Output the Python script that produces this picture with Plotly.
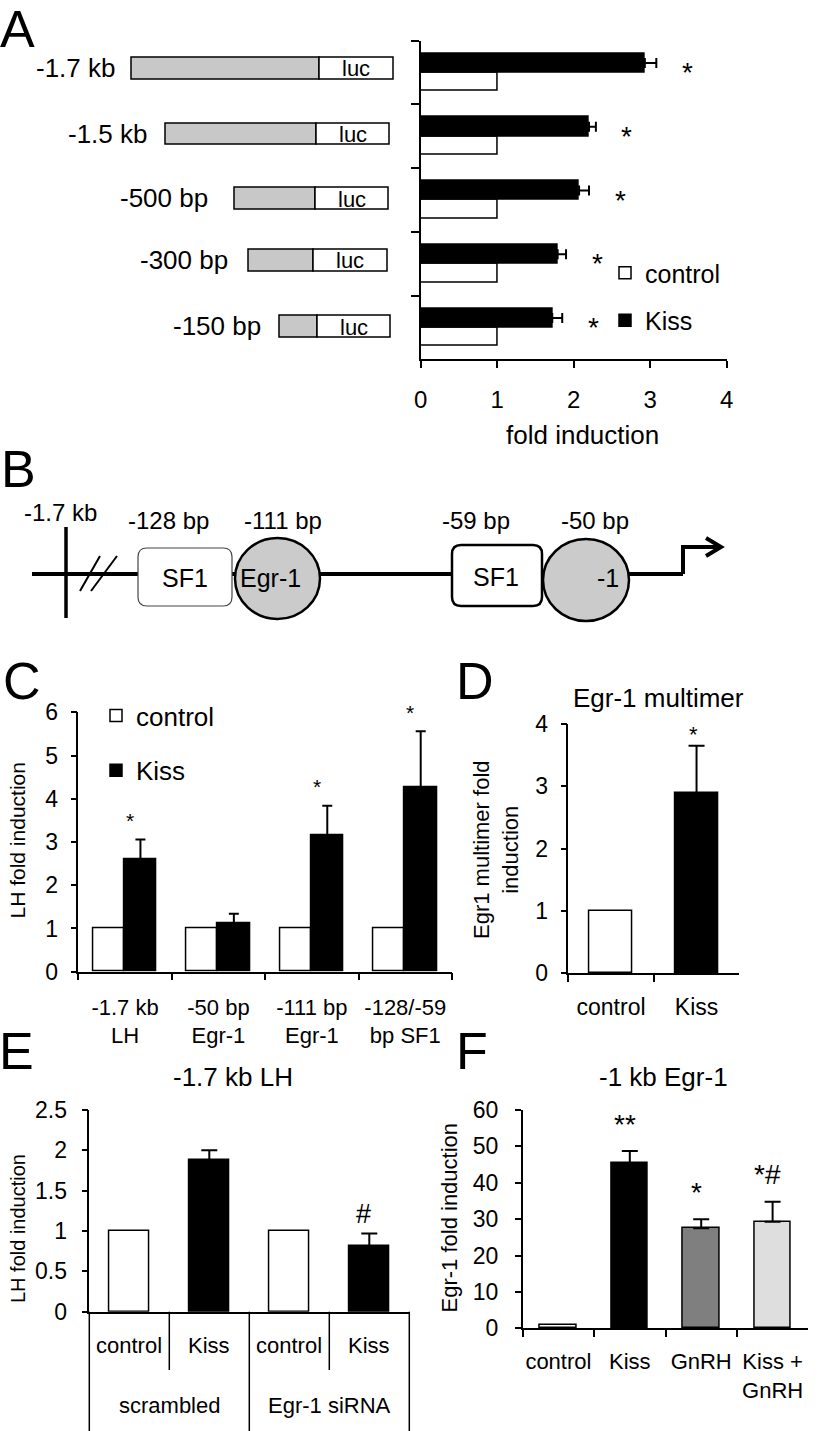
import plotly.graph_objects as go

W, H = 819, 1431
FONT = "Liberation Sans, Arial, Helvetica, sans-serif"

# ---------------- data ----------------
# Panel A: promoter deletion constructs
a_constructs = ["-1.7 kb", "-1.5 kb", "-500 bp", "-300 bp", "-150 bp"]
a_control = [1.0, 1.0, 1.0, 1.0, 1.0]
a_kiss = [2.93, 2.20, 2.07, 1.79, 1.72]
a_kiss_err = [0.15, 0.09, 0.13, 0.11, 0.13]
a_sig = ["*", "*", "*", "*", "*"]
a_xticks = [0, 1, 2, 3, 4]

# Panel B: promoter map
b_start_label = "-1.7 kb"
b_site_positions = ["-128 bp", "-111 bp", "-59 bp", "-50 bp"]
b_site_names = ["SF1", "Egr-1", "SF1", "-1"]

# Panel C
c_constructs = ["-1.7 kb<br>LH", "-50 bp<br>Egr-1", "-111 bp<br>Egr-1", "-128/-59<br>bp SF1"]
c_control = [1.0, 1.0, 1.0, 1.0]
c_kiss = [2.60, 1.12, 3.16, 4.26]
c_kiss_err = [0.46, 0.22, 0.68, 1.30]
c_sig = ["*", "", "*", "*"]
c_yticks = [0, 1, 2, 3, 4, 5, 6]

# Panel D
d_conditions = ["control", "Kiss"]
d_values = [1.0, 2.89]
d_err = [0.0, 0.76]
d_sig = ["", "*"]
d_yticks = [0, 1, 2, 3, 4]

# Panel E
e_groups = ["scrambled", "scrambled", "Egr-1 siRNA", "Egr-1 siRNA"]
e_conditions = ["control", "Kiss", "control", "Kiss"]
e_values = [1.0, 1.88, 1.0, 0.81]
e_err = [0.0, 0.12, 0.0, 0.16]
e_sig = ["", "", "", "#"]
e_yticks = [0, 0.5, 1, 1.5, 2, 2.5]
e_yticklabels = ["0", "0.5", "1", "1.5", "2", "2.5"]

# Panel F
f_conditions = ["control", "Kiss", "GnRH", "Kiss +<br>GnRH"]
f_values = [1.0, 45.3, 27.5, 29.3]
f_err = [0.0, 3.4, 2.5, 5.5]
f_sig = ["", "**", "*", "*#"]
f_yticks = [0, 10, 20, 30, 40, 50, 60]

# ---------------- styles ----------------
COL_CONTROL = "white"
COL_KISS = "black"
f_colors = ["white", "black", "#7f7f7f", "#dedede"]
GRAY_PROMOTER = "#c8c8c8"


def px(x):
    return x / W


def py(y):
    return 1 - y / H


def mask(vals, keep):
    return [v if k else None for v, k in zip(vals, keep)]


fig = go.Figure()
edge = dict(color="black", width=1.5)
err_style = dict(color="black", thickness=2)

# ---- Panel A bars (horizontal)
fig.add_trace(go.Bar(
    y=a_constructs, x=a_control, orientation="h", name="control",
    marker=dict(color=COL_CONTROL, line=edge), width=0.29, offset=-0.29,
    xaxis="x", yaxis="y", legend="legend", legendgroup="a_control"))
fig.add_trace(go.Bar(
    y=a_constructs, x=a_kiss, orientation="h", name="Kiss",
    marker=dict(color=COL_KISS, line=edge), width=0.3, offset=0.0,
    error_x=dict(type="data", array=a_kiss_err, arrayminus=[0] * len(a_kiss),
                 symmetric=False, width=5, **err_style),
    xaxis="x", yaxis="y", legend="legend", legendgroup="a_kiss"))

# ---- Panel C bars
fig.add_trace(go.Bar(
    x=c_constructs, y=c_control, name="control",
    marker=dict(color=COL_CONTROL, line=edge), width=0.33, offset=-0.34,
    xaxis="x2", yaxis="y2", legend="legend2", legendgroup="c_control"))
fig.add_trace(go.Bar(
    x=c_constructs, y=c_kiss, name="Kiss",
    marker=dict(color=COL_KISS, line=edge), width=0.35, offset=-0.01,
    error_y=dict(type="data", array=c_kiss_err, arrayminus=[0] * len(c_kiss),
                 symmetric=False, width=5, **err_style),
    xaxis="x2", yaxis="y2", legend="legend2", legendgroup="c_kiss"))

# ---- Panel D bars
d_is_ctrl = [c == "control" for c in d_conditions]
fig.add_trace(go.Bar(
    x=d_conditions, y=mask(d_values, d_is_ctrl), showlegend=False,
    marker=dict(color=COL_CONTROL, line=edge), width=0.5,
    xaxis="x3", yaxis="y3"))
fig.add_trace(go.Bar(
    x=d_conditions, y=mask(d_values, [not k for k in d_is_ctrl]), showlegend=False,
    marker=dict(color=COL_KISS, line=edge), width=0.5,
    error_y=dict(type="data", array=d_err, arrayminus=[0] * len(d_err),
                 symmetric=False, width=8, **err_style),
    xaxis="x3", yaxis="y3"))

# ---- Panel E bars (multicategory axis)
e_is_ctrl = [c == "control" for c in e_conditions]
fig.add_trace(go.Bar(
    x=[e_groups, e_conditions], y=mask(e_values, e_is_ctrl), showlegend=False,
    marker=dict(color=COL_CONTROL, line=edge), width=0.5,
    xaxis="x4", yaxis="y4"))
fig.add_trace(go.Bar(
    x=[e_groups, e_conditions], y=mask(e_values, [not k for k in e_is_ctrl]), showlegend=False,
    marker=dict(color=COL_KISS, line=edge), width=0.5,
    error_y=dict(type="data", array=e_err, arrayminus=[0] * len(e_err),
                 symmetric=False, width=8, **err_style),
    xaxis="x4", yaxis="y4"))

# ---- Panel F bars
f_is_ctrl = [c == "control" for c in f_conditions]
fig.add_trace(go.Bar(
    x=f_conditions, y=mask(f_values, f_is_ctrl), showlegend=False,
    marker=dict(color=f_colors, line=edge), width=0.51,
    xaxis="x5", yaxis="y5"))
fig.add_trace(go.Bar(
    x=f_conditions, y=mask(f_values, [not k for k in f_is_ctrl]), showlegend=False,
    marker=dict(color=f_colors, line=edge), width=0.51,
    error_y=dict(type="data", array=f_err, arrayminus=[0] * len(f_err),
                 symmetric=False, width=8, **err_style),
    xaxis="x5", yaxis="y5"))

# ---------------- axes ----------------
base = dict(showline=True, linecolor="black", linewidth=1.5, ticks="outside",
            tickcolor="black", tickwidth=1.5, showgrid=False, zeroline=False,
            automargin=False, fixedrange=True,
            tickfont=dict(family=FONT, size=23, color="black"))

layout_axes = dict(
    xaxis=dict(base, domain=[px(420.7), px(726.7)], anchor="y", range=[0, 4],
               tickvals=a_xticks, ticklen=7, tickfont=dict(family=FONT, size=24, color="black"),
               ticklabelstandoff=11),
    yaxis=dict(base, domain=[py(359.3), py(40.7)], anchor="x", type="category",
               categoryorder="array", categoryarray=a_constructs[::-1],
               range=[-0.5, 4.5], tickson="boundaries", ticklen=8, showticklabels=False),
    xaxis2=dict(base, domain=[px(78.3), px(452)], anchor="y2", type="category",
                range=[-0.5, 3.5], tickson="boundaries", ticklen=7, tickangle=0,
                tickfont=dict(family=FONT, size=22, color="black"), ticklabelstandoff=15),
    yaxis2=dict(base, domain=[py(971.7), py(712.3)], anchor="x2", range=[0, 6],
                tickvals=c_yticks, ticklen=6, ticklabelstandoff=8),
    xaxis3=dict(base, domain=[px(568.3), px(739.3)], anchor="y3", type="category",
                range=[-0.5, 1.5], tickson="boundaries", ticklen=7, tickangle=0,
                tickfont=dict(family=FONT, size=23, color="black"), ticklabelstandoff=12),
    yaxis3=dict(base, domain=[py(973.3), py(724)], anchor="x3", range=[0, 4],
                tickvals=d_yticks, ticklen=6, ticklabelstandoff=8),
    xaxis4=dict(base, domain=[px(89.3), px(409.3)], anchor="y4", type="multicategory",
                range=[-0.5, 3.5], ticks="", showdividers=False, showticklabels=False),
    yaxis4=dict(base, domain=[py(1311.7), py(1110)], anchor="x4", range=[0, 2.5],
                tickvals=e_yticks, ticktext=e_yticklabels, ticklen=6, ticklabelstandoff=10),
    xaxis5=dict(base, domain=[px(522.7), px(808.3)], anchor="y5", type="category",
                range=[-0.5, 3.5], tickson="boundaries", ticklen=7, tickangle=0,
                tickfont=dict(family=FONT, size=22, color="black"), ticklabelstandoff=13),
    yaxis5=dict(base, domain=[py(1328.3), py(1110)], anchor="x5", range=[0, 60],
                tickvals=f_yticks, ticklen=6, ticklabelstandoff=12),
)

# ---------------- annotations ----------------
ann = []


def text(t, x, y, size, xanchor="center", yanchor="middle", angle=0, xref="paper"):
    ann.append(dict(text=t, x=px(x) if xref == "paper" else x, y=py(y), xref=xref,
                    yref="paper", xanchor=xanchor, yanchor=yanchor, showarrow=False,
                    textangle=angle, font=dict(family=FONT, size=size, color="black")))


# panel letters
for letter, lx, ly in [("A", 17.5, 29), ("B", 18.5, 469), ("C", 22, 681),
                       ("D", 474.5, 681), ("E", 16.5, 1051), ("F", 472.5, 1051)]:
    text(letter, lx, ly, 52)

# titles and axis titles
text("fold induction", 582, 435, 26)
text("Egr-1 multimer", 658, 698, 26)
text("-1.7 kb LH", 233, 1077, 26)
text("-1 kb Egr-1", 663, 1077, 26)
text("LH fold induction", 17.5, 841, 21, angle=-90)
text("Egr1 multimer fold<br>induction", 496, 849, 22, angle=-90)
text("LH fold induction", 18, 1229, 20, angle=-90)
text("Egr-1 fold induction", 448.5, 1218, 22, angle=-90)

# panel E table labels (conditions row, then groups row)
n_e = len(e_conditions)
for i, cond in enumerate(e_conditions):
    text(cond, (i + 0.5) / n_e, 1345, 22, xref="x4 domain")
e_group_names = list(dict.fromkeys(e_groups))
for g in e_group_names:
    idx = [i for i, gg in enumerate(e_groups) if gg == g]
    text(g, (idx[0] + idx[-1] + 1) / 2 / n_e, 1405, 22, xref="x4 domain")

# significance marks
for cat, v, e, s in zip(a_constructs, a_kiss, a_kiss_err, a_sig):
    ann.append(dict(text=s, x=v + e, y=cat, xref="x", yref="y", xanchor="center",
                    yanchor="middle", xshift=31, yshift=0, showarrow=False,
                    font=dict(family=FONT, size=28, color="black")))
for i, (v, e, s) in enumerate(zip(c_kiss, c_kiss_err, c_sig)):
    if s:
        ann.append(dict(text=s, x=i, y=v + e, xref="x2", yref="y2", xanchor="center",
                        yanchor="middle", xshift=5, yshift=19, showarrow=False,
                        font=dict(family=FONT, size=21, color="black")))
for i, (v, e, s) in enumerate(zip(d_values, d_err, d_sig)):
    if s:
        ann.append(dict(text=s, x=i, y=v + e, xref="x3", yref="y3", xanchor="center",
                        yanchor="middle", xshift=-3, yshift=11, showarrow=False,
                        font=dict(family=FONT, size=22, color="black")))
for i, (v, e, s) in enumerate(zip(e_values, e_err, e_sig)):
    if s:
        ann.append(dict(text=s, x=(i + 0.5) / n_e, y=v + e, xref="x4 domain", yref="y4",
                        xanchor="center", yanchor="middle", xshift=-6, yshift=19,
                        showarrow=False, font=dict(family=FONT, size=27, color="black")))
for i, (v, e, s) in enumerate(zip(f_values, f_err, f_sig)):
    if s:
        ann.append(dict(text=s, x=i, y=v + e, xref="x5", yref="y5", xanchor="center",
                        yanchor="middle", xshift=-5, yshift=27, showarrow=False,
                        font=dict(family=FONT, size=28, color="black")))

# ---------------- shapes ----------------
shapes = []


def line(x0, y0, x1, y1, width, color="black"):
    shapes.append(dict(type="line", xref="paper", yref="paper", x0=px(x0), y0=py(y0),
                       x1=px(x1), y1=py(y1), line=dict(color=color, width=width)))


def path(points, width, color="black"):
    d = "M " + " L ".join(f"{px(x):.5f},{py(y):.5f}" for x, y in points)
    shapes.append(dict(type="path", xref="paper", yref="paper", path=d,
                       line=dict(color=color, width=width), fillcolor="rgba(0,0,0,0)"))


def rrect(x0, y0, x1, y1, r, width, color="black", fill="white"):
    def p(x, y):
        return f"{px(x):.5f},{py(y):.5f}"
    d = (f"M {p(x0 + r, y0)} L {p(x1 - r, y0)} Q {p(x1, y0)} {p(x1, y0 + r)} "
         f"L {p(x1, y1 - r)} Q {p(x1, y1)} {p(x1 - r, y1)} L {p(x0 + r, y1)} "
         f"Q {p(x0, y1)} {p(x0, y1 - r)} L {p(x0, y0 + r)} Q {p(x0, y0)} {p(x0 + r, y0)} Z")
    shapes.append(dict(type="path", xref="paper", yref="paper", path=d,
                       line=dict(color=color, width=width), fillcolor=fill))


def rect(x0, y0, x1, y1, fill, width=1.5):
    shapes.append(dict(type="rect", xref="paper", yref="paper", x0=px(x0), y0=py(y0),
                       x1=px(x1), y1=py(y1), fillcolor=fill,
                       line=dict(color="black", width=width)))


def ellipse(x0, y0, x1, y1, fill, width=2.5):
    shapes.append(dict(type="circle", xref="paper", yref="paper", x0=px(x0), y0=py(y0),
                       x1=px(x1), y1=py(y1), fillcolor=fill,
                       line=dict(color="black", width=width)))


# Panel A construct schematics (pixel layout of the drawing)
construct_layout = [  # left, luc start, right, top, bottom, label right
    (131, 319, 393, 57, 79, 118),
    (165, 316, 389, 123, 144, 150),
    (234, 315, 388, 187, 209, 210),
    (248, 313, 387, 249, 271, 230),
    (279, 317, 390, 315, 337, 263),
]
for name, (l, m, r, t, b, lr) in zip(a_constructs, construct_layout):
    rect(l, t, m, b, GRAY_PROMOTER)
    rect(m, t, r, b, "white")
    text("luc", (m + r) / 2, (t + b) / 2 + 1, 22)
    text(name, lr, (t + b) / 2, 26, xanchor="right")

# Panel B promoter map
line(32, 574, 683, 574, 4)
path([(683, 574), (683, 547), (720, 547)], 4)
path([(706, 538), (721, 547), (706, 556)], 4)
line(66, 527, 66, 618, 3.5)
line(80, 591, 100, 556, 2)
line(91, 591, 117, 556, 2)
rrect(138, 548, 232, 606, 9, 1.2, color="#444444")
ellipse(235, 538, 320, 619, "#cbcbcb")
rrect(452, 545, 542, 606, 9, 2.5)
ellipse(543, 539, 629, 621, "#cbcbcb")
for name, (cx, cy) in zip(b_site_names, [(185, 578), (270, 578), (496, 577), (608, 578)]):
    text(name, cx, cy, 25)
text(b_start_label, 60, 513, 24)
for lab, cx in zip(b_site_positions, [168, 283, 476, 595]):
    text(lab, cx, 520, 24)

# Panel E: table grid under the x axis
e_axis_y = 1311.7
for xd in [0.0, 0.5, 1.0]:
    shapes.append(dict(type="line", xref="x4 domain", yref="paper", x0=xd, x1=xd,
                       y0=py(e_axis_y), y1=py(H), line=dict(color="black", width=1.5)))
for xd in [0.25, 0.75]:
    shapes.append(dict(type="line", xref="x4 domain", yref="paper", x0=xd, x1=xd,
                       y0=py(e_axis_y), y1=py(1370), line=dict(color="black", width=1.5)))

legend_font = dict(family=FONT, size=25, color="black")
fig.update_layout(
    width=W, height=H, margin=dict(l=0, r=0, t=0, b=0),
    paper_bgcolor="white", plot_bgcolor="white",
    barmode="overlay", bargap=0,
    font=dict(family=FONT, color="black"),
    annotations=ann, shapes=shapes,
    legend=dict(x=px(605), y=py(250), xanchor="left", yanchor="top", font=legend_font,
                bgcolor="rgba(0,0,0,0)", tracegroupgap=12, traceorder="grouped",
                itemclick=False, itemdoubleclick=False),
    legend2=dict(x=px(96), y=py(692), xanchor="left", yanchor="top",
                 font=dict(family=FONT, size=26, color="black"),
                 bgcolor="rgba(0,0,0,0)", tracegroupgap=18, traceorder="grouped",
                 itemclick=False, itemdoubleclick=False),
    **layout_axes,
)

fig.write_html("out.html", config={"displayModeBar": False},
               post_script="document.body.style.margin='0px';")
